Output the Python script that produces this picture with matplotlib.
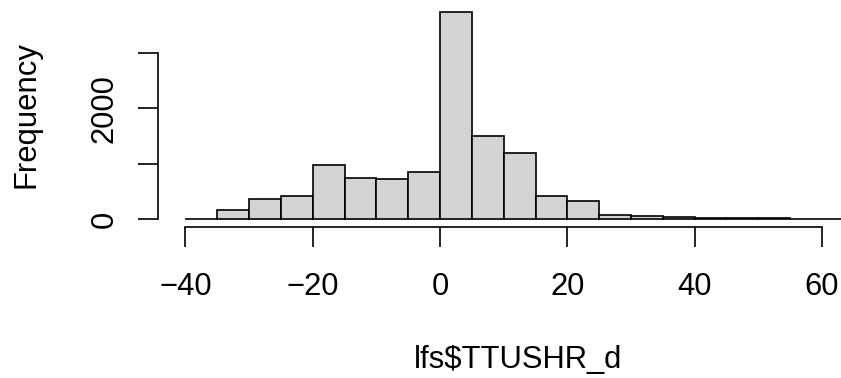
import numpy as np
import matplotlib.pyplot as plt

# histogram of lfs$TTUSHR_d, bins of width 5 from -40 to 65
breaks = np.arange(-40, 70, 5)
counts = [0, 158, 362, 410, 980, 738, 725, 852, 3738, 1500, 1188, 416, 320,
          78, 55, 28, 15, 12, 10, 8, 6]
xticks = [-40, -20, 0, 20, 40, 60]
yticks = [0, 1000, 2000, 3000]
ylabels = ['0', '', '2000', '']

plt.rcParams['font.family'] = ['Liberation Sans', 'DejaVu Sans']
fs = 22.3

W, H = 841, 378
fig = plt.figure(figsize=(W / 100, H / 100), dpi=100)
# plot region in pixels: x 158..885, y 4.7..227.3
ax = fig.add_axes([158 / W, 1 - 227.3 / H, (885 - 158) / W, (227.3 - 4.7) / H])

ax.bar(breaks[:-1], counts, width=5, align='edge', color='#d3d3d3',
       edgecolor='black', linewidth=1.2)

ax.set_xlim(-44.3, 69.9)
ax.set_ylim(-150, 3875)

for s in ['top', 'right']:
    ax.spines[s].set_visible(False)
ax.spines['left'].set_bounds(0, 3000)
ax.spines['bottom'].set_bounds(-40, 60)
ax.spines['left'].set_linewidth(1.2)
ax.spines['bottom'].set_linewidth(1.2)

ax.set_xticks(xticks)
ax.set_yticks(yticks)
ax.set_yticklabels(ylabels)
ax.tick_params(axis='both', direction='out', length=14.4, width=1.2,
               labelsize=fs)
ax.tick_params(axis='x', pad=18)
ax.tick_params(axis='y', pad=13)
plt.setp(ax.get_yticklabels(), rotation=90, va='center')

fig.text(518 / W, 1 - 368 / H, 'lfs$TTUSHR_d', fontsize=fs,
         ha='center', va='baseline')
fig.text(11 / W, 1 - 115 / H, 'Frequency', fontsize=fs, rotation=90,
         ha='left', va='center')

fig.savefig('out.png', dpi=100)
